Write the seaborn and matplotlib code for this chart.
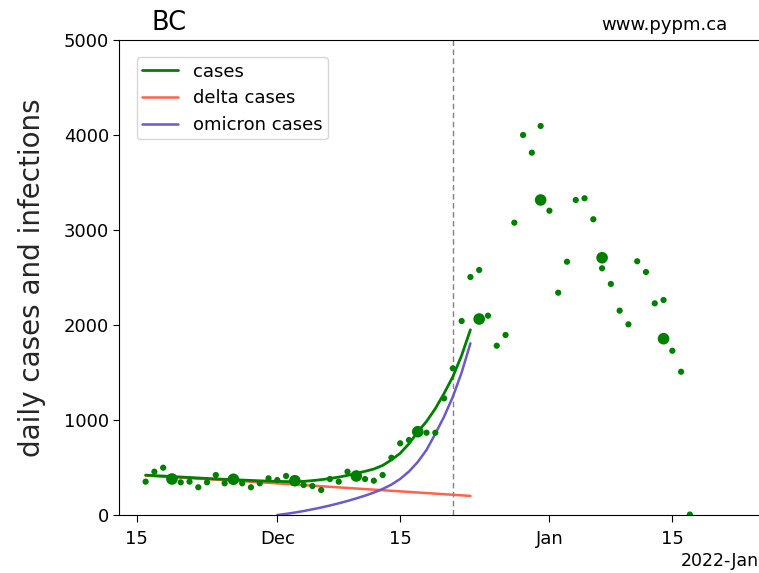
import numpy as np
import pandas as pd
import matplotlib
matplotlib.use("Agg")
import matplotlib.pyplot as plt
import matplotlib.dates as mdates
import seaborn as sns

# Reported daily cases (Nov 16 2021 onwards); gaps sit under the weekly markers
daily_start = "2021-11-16"
daily_cases = [351, 456, 498, np.nan, 344, 351, 292, 344, 421, 334,
               np.nan, 334, 292, 334, 386, 368, 411, np.nan, 316, 305,
               263, 379, 351, 456, np.nan, 379, 361, 421, 603, 755,
               789, np.nan, 866, 866, 1228, 1544, 2042, 2505, 2579, 2098,
               1782, 1895, 3077, 4000, 3814, 4095, 3203, 2340, 2666, 3316,
               3334, 3113, 2597, 2432, 2151, 2007, 2671, 2558, 2228, 2263,
               1729, 1508, 5]

# Centred 7-day averages
weekly_dates = ["2021-11-19", "2021-11-26", "2021-12-03", "2021-12-10", "2021-12-17",
                "2021-12-24", "2021-12-31", "2022-01-07", "2022-01-14"]
weekly_cases = [379, 376, 361, 411, 877, 2063, 3316, 2708, 1856]

# Model curves
model_start = "2021-11-16"
model_cases = [420, 415, 410, 405, 400, 395, 390, 385, 380, 376,
               372, 368, 364, 360, 357, 354, 352, 351, 354, 362,
               372, 385, 399, 417, 439, 460, 484, 522, 580, 650,
               750, 875, 985, 1120, 1280, 1456, 1680, 1950]
delta_cases = [414, 409, 404, 398, 393, 388, 382, 377, 372, 366,
               361, 356, 350, 345, 339, 333, 327, 321, 315, 309,
               303, 297, 291, 285, 279, 273, 267, 261, 255, 249,
               243, 237, 231, 225, 219, 213, 207, 201]
omicron_start = "2021-12-01"
omicron_cases = [0, 12, 26, 42, 60, 79, 100, 123, 148, 175,
                 204, 236, 274, 320, 380, 458, 558, 685, 855, 1035,
                 1245, 1500, 1807]

marker_date = "2021-12-21"
x_range = ("2021-11-13 00:30", "2022-01-24 21:00")
y_range = (0, 5000)

sns.set_style("ticks", {"axes.edgecolor": "black", "text.color": "black",
                        "xtick.color": "black", "ytick.color": "black"})
plt.rcParams["font.family"] = ["DejaVu Sans"]

daily = pd.DataFrame({"date": pd.date_range(daily_start, periods=len(daily_cases)),
                      "cases": daily_cases})
weekly = pd.DataFrame({"date": pd.to_datetime(weekly_dates), "cases": weekly_cases})
model = pd.DataFrame({"date": pd.date_range(model_start, periods=len(model_cases)),
                      "cases": model_cases, "delta": delta_cases})
omicron = pd.DataFrame({"date": pd.date_range(omicron_start, periods=len(omicron_cases)),
                        "omicron": omicron_cases})

fig = plt.figure(figsize=(7.59, 5.73), dpi=100)
ax = fig.add_axes([0.1574, 0.1012, 0.8426, 0.829])

sns.lineplot(data=model, x="date", y="delta", color="tomato", lw=1.8,
             label="delta cases", ax=ax, zorder=2)
sns.lineplot(data=omicron, x="date", y="omicron", color="slateblue", lw=1.8,
             label="omicron cases", ax=ax, zorder=2)
sns.lineplot(data=model, x="date", y="cases", color="green", lw=2,
             label="cases", ax=ax, zorder=3)
sns.scatterplot(data=daily.dropna(), x="date", y="cases", color="green", s=20,
                edgecolor="none", ax=ax, zorder=4, legend=False)
sns.scatterplot(data=weekly, x="date", y="cases", color="green", s=70,
                edgecolor="none", ax=ax, zorder=4, legend=False)

ax.axvline(pd.Timestamp(marker_date), color="gray", lw=1, ls=(0, (4, 2.5)), zorder=1)

ax.set_xlim(pd.Timestamp(x_range[0]), pd.Timestamp(x_range[1]))
ax.set_ylim(*y_range)
ax.set_yticks([0, 1000, 2000, 3000, 4000, 5000])

locator = mdates.DayLocator(bymonthday=[1, 15])
ax.xaxis.set_major_locator(locator)
ax.xaxis.set_major_formatter(mdates.ConciseDateFormatter(locator))
ax.tick_params(labelsize=13, direction="out", length=4)
ax.tick_params(axis="x", length=5, pad=6)
ax.xaxis.get_offset_text().set_fontsize(12.5)

ax.set_xlabel("")
ax.set_ylabel("daily cases and infections", fontsize=20, labelpad=12.5)
ax.spines["right"].set_visible(False)

ax.text(0.05, 1.021, "BC", transform=ax.transAxes, fontsize=18.5, va="baseline", ha="left")
ax.text(0.95, 1.021, "www.pypm.ca", transform=ax.transAxes, fontsize=13,
        va="baseline", ha="right")

handles, labels = ax.get_legend_handles_labels()
order = [labels.index(k) for k in ["cases", "delta cases", "omicron cases"]]
ax.legend([handles[i] for i in order], [labels[i] for i in order],
          loc="upper left", fontsize=13, borderaxespad=0.95, labelspacing=0.48,
          borderpad=0.3, handlelength=2.0, frameon=True)

fig.savefig("out.png", dpi=100)
